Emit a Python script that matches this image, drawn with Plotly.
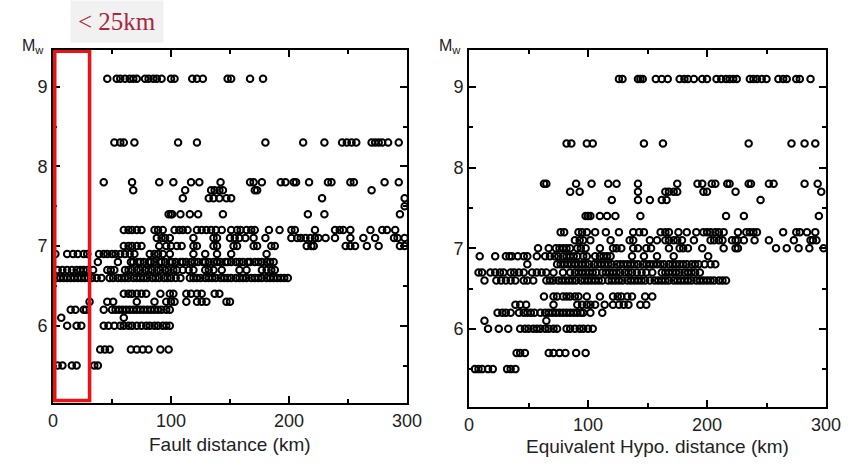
import plotly.graph_objects as go

# Mw levels (rows of the scatter)
mw_levels = [9.1, 8.3, 7.8, 7.7, 7.6, 7.5, 7.4, 7.2, 7.1, 7.0, 6.9, 6.8, 6.7, 6.6, 6.4, 6.3, 6.2, 6.1, 6.0, 5.7, 5.5]

# fault distance (km) of records, one list per Mw level
fault_91 = [46, 54, 57, 61, 65, 68, 71, 78, 81, 85, 88, 92, 100, 103, 118, 122, 127, 148, 151, 167, 178]
fault_83 = [52, 57, 60, 69, 106, 122, 180, 212, 230, 245, 249, 253, 257, 270, 273, 276, 279, 284, 293]
fault_78 = [43, 67, 90, 102, 117, 124, 142, 167, 170, 177, 193, 197, 204, 206, 217, 233, 236, 252, 255, 281, 293]
fault_77 = [68, 112, 134, 137, 141, 144, 171, 173, 270]
fault_76 = [110, 132, 136, 141, 147, 151, 228, 298]
fault_75 = [298]
fault_74 = [98, 100, 101, 108, 116, 123, 144, 216, 230, 294]
fault_72 = [60, 64, 67, 71, 75, 86, 89, 93, 103, 107, 110, 114, 122, 126, 130, 134, 138, 143, 151, 156,
            159, 164, 168, 171, 183, 192, 202, 205, 222, 239, 243, 246, 252, 269, 279, 283, 290]
fault_71 = [88, 92, 95, 99, 119, 136, 139, 150, 154, 158, 163, 170, 180, 202, 207, 210, 214, 218, 222, 225,
            231, 239, 252, 263, 273, 289, 292, 298]
fault_70 = [60, 64, 67, 71, 75, 90, 96, 100, 105, 109, 119, 122, 136, 139, 153, 156, 170, 173, 185, 188,
            215, 219, 221, 248, 252, 256, 266, 276, 294, 298]
fault_69 = [2, 12, 17, 21, 26, 29, 39, 43, 46, 50, 53, 57, 61, 65, 69, 82, 86, 89, 93, 99, 119, 129, 139, 151, 181]
fault_68 = [38, 55, 66, 68, 72, 74, 77, 81, 83, 86, 90, 92, 95, 99, 101, 104, 108, 110, 113, 117, 120, 123,
            127, 129, 132, 136, 139, 142, 146, 148, 151, 155, 158, 161, 165, 167, 171, 174, 177, 181, 184, 187]
fault_67 = [4, 8, 12, 16, 20, 23, 26, 29, 34, 46, 49, 52, 61, 64, 67, 71, 74, 78, 81, 84, 88, 91, 95, 98,
            102, 105, 110, 115, 119, 129, 132, 136, 143, 158, 164, 177, 181, 185, 188]
fault_66 = [3, 6, 9, 12, 15, 18, 21, 24, 27, 30, 33, 37, 41, 48, 51, 55, 58, 61, 64, 68, 71, 74, 77, 80, 84,
            87, 90, 94, 97, 100, 104, 108, 116, 119, 122, 125, 129, 132, 135, 138, 142, 145, 148, 151, 155,
            158, 161, 164, 168, 171, 174, 177, 181, 184, 187, 190, 193, 196, 199]
fault_64 = [60, 64, 67, 71, 75, 79, 91, 99, 102, 113, 117, 122, 126, 137, 141]
fault_63 = [31, 46, 51, 71, 86, 96, 100, 103, 113, 122, 126, 130, 147, 150]
fault_62 = [15, 19, 26, 28, 43, 50, 53, 56, 59, 62, 65, 68, 71, 74, 77, 80, 83, 86, 89, 92, 96, 99]
fault_61 = [7, 60]
fault_60 = [12, 20, 24, 43, 47, 52, 57, 60, 64, 67, 71, 75, 79, 82, 86, 89, 93, 96, 99]
fault_57 = [40, 44, 48, 66, 71, 76, 81, 91, 98]
fault_55 = [4, 8, 16, 20, 35, 38]

# equivalent hypocentral distance (km), one list per Mw level
hypo_91 = [126, 129, 142, 144, 146, 157, 162, 167, 177, 181, 184, 189, 196, 200, 208, 212, 216, 219, 222, 225,
           236, 239, 242, 246, 250, 260, 264, 267, 275, 278, 287]
hypo_83 = [82, 86, 99, 104, 147, 163, 235, 271, 282, 291]
hypo_78 = [63, 65, 90, 103, 117, 124, 142, 175, 192, 196, 204, 207, 217, 219, 235, 237, 252, 256, 282, 293]
hypo_77 = [85, 93, 142, 165, 168, 172, 175, 197, 200, 224, 296]
hypo_76 = [120, 142, 152, 162, 166, 245]
hypo_75 = []
hypo_74 = [98, 100, 102, 110, 116, 123, 144, 216, 231, 294]
hypo_72 = [77, 80, 92, 95, 99, 106, 115, 126, 138, 143, 147, 161, 165, 168, 176, 183, 191, 197, 200, 203,
           207, 210, 214, 226, 233, 236, 239, 242, 264, 275, 278, 284, 291]
hypo_71 = [89, 93, 96, 102, 119, 135, 138, 152, 158, 165, 168, 172, 175, 179, 189, 203, 206, 210, 213, 221,
           224, 226, 231, 240, 252, 273, 287, 289, 292]
hypo_70 = [58, 67, 73, 76, 79, 82, 85, 91, 94, 98, 110, 121, 124, 128, 138, 142, 149, 153, 168, 177, 180,
           184, 196, 214, 224, 226, 258, 267, 277, 286, 298]
hypo_69 = [9, 22, 31, 34, 36, 41, 46, 49, 57, 64, 68, 72, 75, 79, 82, 85, 88, 91, 96, 99, 106, 110, 113,
           116, 119, 137, 147, 158, 172, 201]
hypo_68 = [49, 74, 77, 80, 83, 86, 89, 92, 95, 98, 101, 105, 108, 111, 114, 117, 120, 124, 127, 130, 133,
           136, 139, 142, 146, 149, 152, 155, 158, 161, 164, 168, 171, 174, 177, 180, 183, 187, 190, 193,
           198, 203, 207]
hypo_67 = [8, 11, 18, 22, 26, 29, 35, 38, 42, 46, 53, 57, 61, 65, 71, 79, 85, 89, 92, 95, 98, 101, 104, 107,
           112, 115, 118, 121, 124, 127, 131, 134, 137, 141, 145, 149, 154, 162, 165, 168, 171, 174, 177,
           181, 184, 187, 190, 194]
hypo_66 = [13, 23, 27, 31, 35, 39, 46, 49, 54, 65, 68, 71, 75, 78, 81, 84, 87, 90, 94, 97, 100, 103, 106,
           109, 112, 117, 120, 123, 126, 129, 133, 136, 139, 142, 145, 148, 152, 156, 159, 162, 165, 168,
           172, 175, 178, 181, 184, 187, 191, 194, 197, 200, 203, 206, 210, 213, 216]
hypo_64 = [63, 71, 74, 79, 82, 85, 89, 92, 99, 110, 121, 125, 128, 133, 137, 148, 154]
hypo_63 = [39, 43, 48, 71, 91, 95, 99, 102, 106, 114, 121, 126, 130, 134, 144, 149]
hypo_62 = [24, 28, 31, 35, 42, 46, 49, 52, 55, 60, 64, 67, 70, 73, 76, 79, 82, 85, 88, 91, 94, 96, 102, 112]
hypo_61 = [13, 65]
hypo_60 = [16, 25, 33, 43, 47, 50, 54, 57, 60, 64, 67, 71, 74, 82, 85, 89, 93, 96, 100, 104]
hypo_57 = [40, 43, 47, 67, 71, 76, 81, 90, 98]
hypo_55 = [5, 8, 11, 16, 20, 32, 35, 39]

fault_rows = [fault_91, fault_83, fault_78, fault_77, fault_76, fault_75, fault_74, fault_72, fault_71,
              fault_70, fault_69, fault_68, fault_67, fault_66, fault_64, fault_63, fault_62, fault_61,
              fault_60, fault_57, fault_55]
hypo_rows = [hypo_91, hypo_83, hypo_78, hypo_77, hypo_76, hypo_75, hypo_74, hypo_72, hypo_71,
             hypo_70, hypo_69, hypo_68, hypo_67, hypo_66, hypo_64, hypo_63, hypo_62, hypo_61,
             hypo_60, hypo_57, hypo_55]


def flatten(rows):
    xs, ys = [], []
    for m, row in zip(mw_levels, rows):
        xs += row
        ys += [m] * len(row)
    return xs, ys


fx, fy = flatten(fault_rows)
hx, hy = flatten(hypo_rows)

W, H = 854, 469
# plot area in pixels: x 53..826, y 50..407
L, R, T, B = 53, 826, 50, 407
PW, PH = R - L, B - T


def xd(a, b):
    return [(a - L) / PW, (b - L) / PW]


def yd(top, bottom):
    return [(B - bottom) / PH, (B - top) / PH]


fig = go.Figure()

marker = dict(symbol="circle-open", size=6.5, color="black", line=dict(width=2, color="black"))
fig.add_trace(go.Scatter(x=fx, y=fy, mode="markers", marker=marker, xaxis="x", yaxis="y", showlegend=False))
fig.add_trace(go.Scatter(x=hx, y=hy, mode="markers", marker=marker, xaxis="x2", yaxis="y2", showlegend=False))

tickfont = dict(family="Liberation Sans, Arial", size=18, color="#222")
xcommon = dict(range=[0, 300], tickvals=[0, 100, 200, 300], ticks="inside", ticklen=7, tickwidth=2,
               tickcolor="black", showline=True, linewidth=2, linecolor="black", mirror="ticks",
               showgrid=False, zeroline=False, tickfont=tickfont, automargin=False,
               minor=dict(tickvals=[50, 150, 250], ticks="inside", ticklen=4, tickwidth=2, tickcolor="black"))
ycommon = dict(range=[5.03, 9.46], tickvals=[6, 7, 8, 9], ticks="inside", ticklen=7, tickwidth=2,
               tickcolor="black", showline=True, linewidth=2, linecolor="black", mirror="ticks",
               showgrid=False, zeroline=False, tickfont=tickfont, automargin=False,
               minor=dict(tickvals=[5.5, 6.5, 7.5, 8.5], ticks="inside", ticklen=4, tickwidth=2, tickcolor="black"))

fig.update_layout(
    width=W, height=H,
    margin=dict(l=L, r=W - R, t=T, b=H - B, autoexpand=False),
    plot_bgcolor="white", paper_bgcolor="white",
    xaxis=dict(domain=xd(53, 407), anchor="y", **xcommon),
    yaxis=dict(domain=yd(50, 403), anchor="x", **ycommon),
    xaxis2=dict(domain=xd(469, 826), anchor="y2", **xcommon),
    yaxis2=dict(domain=yd(50, 407), anchor="x2", **ycommon),
)

# red box marking records closer than 25 km
fig.add_shape(type="rect", xref="x", yref="y", x0=1.5, x1=31, y0=5.06, y1=9.445,
              line=dict(color="#ee1111", width=3.5))

lab = dict(family="Liberation Sans, Arial", size=19, color="#222")


def note(text, px, py, font, **kw):
    # px, py: pixel centre in the figure; paper refs are relative to the plot area
    fig.add_annotation(text=text, x=(px - L) / PW, y=(B - py) / PH, xref="paper", yref="paper",
                       xanchor="center", yanchor="middle", showarrow=False, font=font, **kw)


note("Fault distance (km)", 230, 444, lab)
note("Equivalent Hypo. distance (km)", 657, 446, lab)
mw_font = dict(family="Liberation Sans, Arial", size=16, color="#222")
note("M<sub>w</sub>", 33, 46, mw_font)
note("M<sub>w</sub>", 450, 46, mw_font)
note("< 25km", 117, 21, dict(family="Liberation Serif, Times New Roman", size=25, color="#a8283e"),
     bgcolor="#f1f1f1", borderpad=7)

fig.write_html("out.html", config={"displayModeBar": False},
               post_script="document.body.style.margin='0';")
